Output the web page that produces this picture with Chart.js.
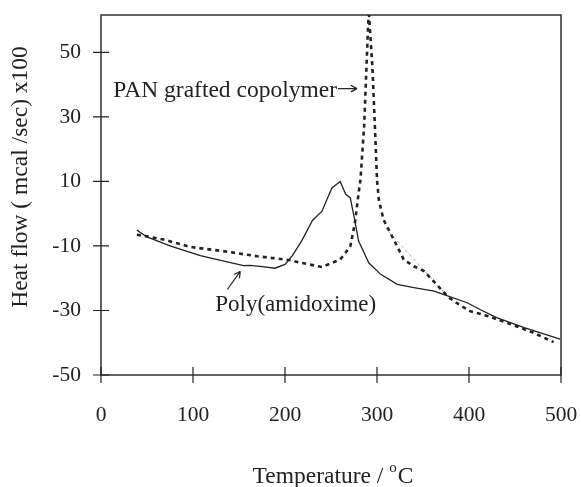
<!DOCTYPE html>
<html>
<head>
<meta charset="utf-8">
<script src="https://cdn.jsdelivr.net/npm/chart.js@4/dist/chart.umd.min.js"></script>
<style>
  html, body { margin: 0; padding: 0; background: #fff; }
  #wrap { width: 581px; height: 487px; }
</style>
</head>
<body>
<div id="wrap"><canvas id="c" width="581" height="487"></canvas></div>
<script>
// Axis ticks
const xTicks = [0, 100, 200, 300, 400, 500];
const yTicks = [-50, -30, -10, 10, 30, 50];

// Poly(amidoxime) DSC trace: temperature (°C) and heat flow (mcal/sec x100)
const amidoximeT = [39, 50, 75, 108, 130, 155, 162, 173, 189, 200, 208, 218, 230, 240, 251, 260, 266, 271, 275, 280, 291, 304, 322, 340, 362, 369, 398, 412, 430, 460, 499];
const amidoximeH = [-5.1, -7.2, -10.0, -13.0, -14.5, -16.1, -16.0, -16.3, -16.9, -15.7, -13.0, -8.5, -2.0, 0.7, 8.0, 10.0, 6.0, 4.9, -0.8, -8.5, -15.2, -18.8, -21.9, -22.9, -24.0, -24.7, -27.6, -29.7, -32.2, -35.3, -38.9];

// PAN grafted copolymer DSC trace
const panT = [39, 51, 68, 97, 133, 170, 206, 217, 240, 260, 271, 276, 280, 282, 286, 289, 291, 295, 298, 300, 302, 307, 322, 329, 340, 351, 365, 378, 389, 401, 420, 441, 470, 492];
const panH = [-6.5, -7.1, -8.0, -10.3, -11.6, -13.2, -14.4, -15.2, -16.5, -14.2, -10.1, -2.9, 6.4, 10.5, 27.0, 48.6, 63.0, 45.5, 25.0, 10.5, 4.3, -1.8, -10.1, -14.2, -16.3, -17.8, -22.0, -26.0, -28.1, -30.2, -31.7, -33.8, -36.9, -39.8];

// Faint overlay on the PAN cooling shoulder
const panFaintT = [309, 372];
const panFaintH = [-4.4, -24.0];

const toPoints = (xs, ys) => xs.map((x, i) => ({ x: x, y: ys[i] }));

const INK = '#222';
const SERIF = "'Liberation Serif', 'Times New Roman', serif";
const LABEL_PX = 23.5;

function arrow(ctx, x0, y0, x1, y1, h) {
  const ang = Math.atan2(y1 - y0, x1 - x0);
  ctx.beginPath();
  ctx.moveTo(x0, y0);
  ctx.lineTo(x1, y1);
  ctx.moveTo(x1, y1);
  ctx.lineTo(x1 - h * Math.cos(ang - 0.5), y1 - h * Math.sin(ang - 0.5));
  ctx.moveTo(x1, y1);
  ctx.lineTo(x1 - h * Math.cos(ang + 0.5), y1 - h * Math.sin(ang + 0.5));
  ctx.stroke();
}

// Frame, crossing tick marks, axis titles and curve labels
const decorations = {
  id: 'decorations',
  afterDraw(chart) {
    const { ctx, chartArea: a, scales: { x, y } } = chart;
    ctx.save();
    ctx.strokeStyle = INK;
    ctx.lineWidth = 1.4;
    ctx.strokeRect(a.left, a.top, a.right - a.left, a.bottom - a.top);

    ctx.lineWidth = 1.2;
    ctx.beginPath();
    xTicks.forEach(v => {
      const px = x.getPixelForValue(v);
      ctx.moveTo(px, a.bottom - 8);
      ctx.lineTo(px, a.bottom + 8);
    });
    yTicks.forEach(v => {
      const py = y.getPixelForValue(v);
      ctx.moveTo(a.left - 8, py);
      ctx.lineTo(a.left + 8, py);
    });
    ctx.stroke();

    ctx.fillStyle = INK;
    const big = LABEL_PX + 'px ' + SERIF;
    const small = '15px ' + SERIF;
    ctx.font = big;
    ctx.textBaseline = 'alphabetic';

    // x-axis title with superscript degree
    const main = 'Temperature / ';
    const wMain = ctx.measureText(main).width;
    ctx.font = small;
    const wSup = ctx.measureText('o').width;
    ctx.font = big;
    const wC = ctx.measureText('C').width;
    const total = wMain + wSup + 1 + wC;
    const tx = (a.left + a.right) / 2 + 2 - total / 2;
    const ty = 483;
    ctx.textAlign = 'left';
    ctx.fillText(main, tx, ty);
    ctx.font = small;
    ctx.fillText('o', tx + wMain, ty - 11);
    ctx.font = big;
    ctx.fillText('C', tx + wMain + wSup + 1, ty);

    // y-axis title
    ctx.save();
    ctx.translate(27, 177);
    ctx.rotate(-Math.PI / 2);
    ctx.textAlign = 'center';
    ctx.fillText('Heat flow ( mcal /sec) x100', 0, 0);
    ctx.restore();

    // curve labels
    ctx.textAlign = 'left';
    const panLabel = 'PAN grafted copolymer';
    const px0 = x.getPixelForValue(13.4), py0 = y.getPixelForValue(36.3);
    ctx.fillText(panLabel, px0, py0);
    const panEnd = px0 + ctx.measureText(panLabel).width;
    ctx.lineWidth = 1.4;
    arrow(ctx, panEnd + 1, py0 - 8, panEnd + 20, py0 - 8, 7);

    ctx.font = '23px ' + SERIF;
    ctx.fillText('Poly(amidoxime)', x.getPixelForValue(124.2), y.getPixelForValue(-30.2));

    // arrow pointing to Poly(amidoxime) curve
    ctx.lineWidth = 1.2;
    arrow(ctx,
      x.getPixelForValue(137.3), y.getPixelForValue(-23.5),
      x.getPixelForValue(151.4), y.getPixelForValue(-17.9), 7);
    ctx.restore();
  }
};

new Chart(document.getElementById('c'), {
  type: 'line',
  data: {
    datasets: [
      {
        label: 'Poly(amidoxime)',
        data: toPoints(amidoximeT, amidoximeH),
        borderColor: INK,
        borderWidth: 1.3,
        pointRadius: 0,
        tension: 0,
        fill: false
      },
      {
        label: 'PAN grafted copolymer',
        data: toPoints(panT, panH),
        borderColor: INK,
        borderWidth: 2.6,
        borderDash: [4, 4],
        pointRadius: 0,
        tension: 0,
        fill: false
      },
      {
        label: 'PAN grafted copolymer (overlay)',
        data: toPoints(panFaintT, panFaintH),
        borderColor: '#999',
        borderWidth: 0.8,
        borderDash: [3, 3],
        pointRadius: 0,
        tension: 0,
        fill: false
      }
    ]
  },
  options: {
    responsive: false,
    animation: false,
    devicePixelRatio: 1,
    layout: { padding: { top: 15, right: 20, left: 0, bottom: 0 } },
    plugins: { legend: { display: false }, tooltip: { enabled: false } },
    scales: {
      x: {
        type: 'linear',
        min: 0,
        max: 500,
        afterBuildTicks: s => { s.ticks = xTicks.map(v => ({ value: v })); },
        afterFit: s => { s.height = 112; s.paddingLeft = 0; s.paddingRight = 0; },
        grid: { display: false },
        border: { display: false },
        ticks: { color: INK, padding: 19, font: { family: SERIF, size: 21.5 } }
      },
      y: {
        type: 'linear',
        min: -50,
        max: 61.6,
        afterBuildTicks: s => { s.ticks = yTicks.map(v => ({ value: v })); },
        afterFit: s => { s.width = 101; s.paddingTop = 0; s.paddingBottom = 0; },
        grid: { display: false },
        border: { display: false },
        ticks: { color: INK, padding: 12, font: { family: SERIF, size: 21.5 } }
      }
    }
  },
  plugins: [decorations]
});
</script>
</body>
</html>
